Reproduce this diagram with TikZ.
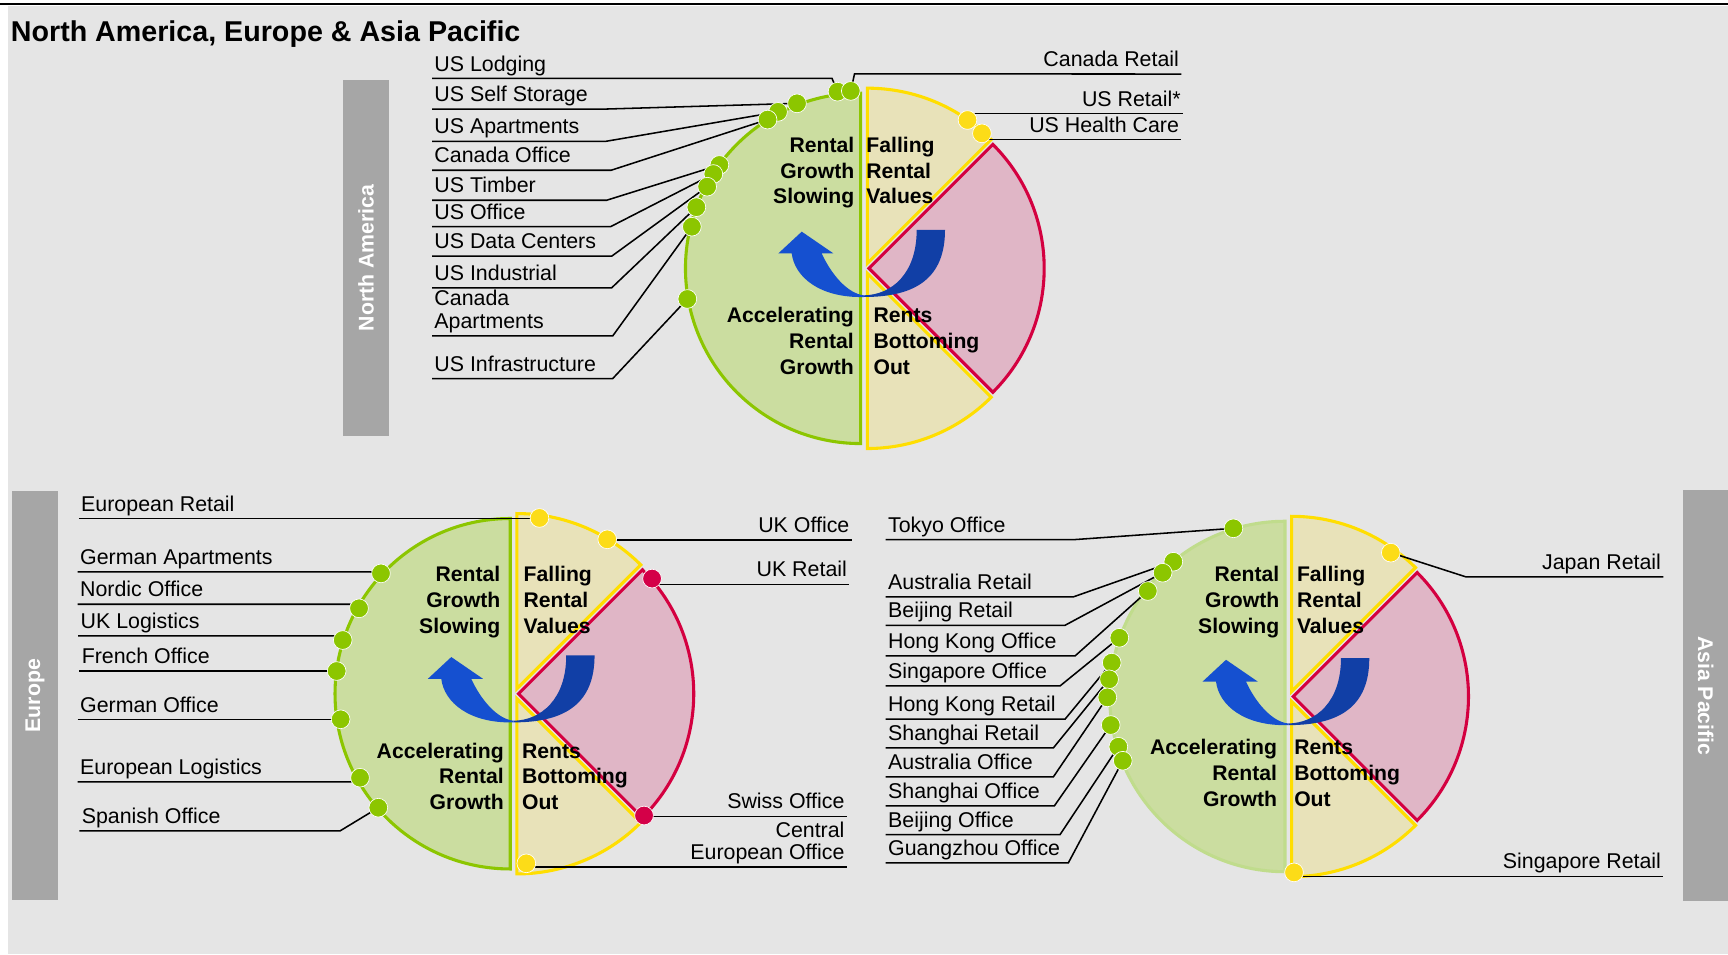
\documentclass[tikz,border=0pt]{standalone}
\usepackage{fontspec}
\setmainfont{Liberation Sans}
\usetikzlibrary{calc}
\definecolor{bgc}{RGB}{229,229,229}
\definecolor{barc}{RGB}{166,166,166}
\definecolor{gfill}{RGB}{203,221,160}
\definecolor{gline}{RGB}{140,198,0}
\definecolor{glinefaint}{RGB}{192,220,140}
\definecolor{yfill}{RGB}{232,226,185}
\definecolor{yline}{RGB}{255,222,0}
\definecolor{pfill}{RGB}{224,182,198}
\definecolor{pline}{RGB}{212,0,64}
\definecolor{dgreen}{RGB}{140,198,0}
\definecolor{dyellow}{RGB}{252,220,24}
\definecolor{dred}{RGB}{212,0,72}
\definecolor{arrlight}{RGB}{21,80,208}
\definecolor{arrdark}{RGB}{17,63,166}
\tikzset{
 lab/.style={font=\fontsize{19.4}{20}\selectfont, inner xsep=2pt, inner ysep=0pt, text depth=6.5pt},
 ctr/.style={font=\bfseries\fontsize{19.2}{23}\selectfont, inner sep=0pt},
 conn/.style={line width=1.4pt, black},
 pieline/.style={line width=2.8pt},
 dotg/.style={circle, inner sep=0pt, minimum size=17pt, fill=dgreen, draw=white, line width=0.6pt},
 doty/.style={dotg, fill=dyellow},
 dotr/.style={dotg, fill=dred},
 barbox/.style={fill=barc, text=white, font=\bfseries\fontsize{19.3}{22}\selectfont, inner sep=0pt},
}
\newcommand\threel[7]{%
 \node[ctr, anchor=#2] (#1a) at (#3,#4) {#5};
 \node[ctr, anchor=#2] (#1b) at (#3,#4+23.3) {#6};
 \node[ctr, anchor=#2] (#1c) at (#3,#4+46.6) {#7};}
\newcommand\drawpie[9]{%
\begin{scope}[shift={(#1,#2)}]
 \filldraw[fill=gfill, draw=#3, pieline] (-3,-159) -- (-3,159) arc[start angle=90, end angle=270, radius=159] -- cycle;
 \filldraw[fill=yfill, draw=yline, pieline] (3,-4.5) -- (3,-163.5) arc[start angle=270, end angle=315, radius=159] -- cycle;
 \filldraw[fill=yfill, draw=yline, pieline] (3,4.5) -- (3,163.5) arc[start angle=90, end angle=45, radius=159] -- cycle;
 \filldraw[fill=pfill, draw=pline, pieline] (4.5,0) -- ++(-45:159) arc[start angle=-45, end angle=45, radius=159] -- cycle;
 \fill[arrdark] (0,26) .. controls (48,26) and (73.5,8) .. (73.5,-34.8) -- (47.8,-34.8) .. controls (47.8,5) and (25,24) .. (0,24.5) -- cycle;
 \fill[arrlight] (0,26) .. controls (-40,27) and (-63,8) .. (-65.6,-13.6) -- (-77.7,-13.6) -- (-56.5,-33.3) -- (-27.8,-13.6) -- (-38.4,-13.6) .. controls (-30,5) and (-15,23) .. (0,24.5) -- cycle;
 \threel{\pp UL}{base east}{#6}{#4}{Rental}{Growth}{Slowing}
 \threel{\pp UR}{base west}{#7}{#4}{Falling}{Rental}{Values}
 \threel{\pp LL}{base east}{#8}{#5}{Accelerating}{Rental}{Growth}
 \threel{\pp LR}{base west}{#9}{#5}{Rents}{Bottoming}{Out}
\end{scope}}
\begin{document}
\begin{tikzpicture}[x=1pt,y=-1pt]
\useasboundingbox (0,0) rectangle (1568,866);
\fill[white] (0,0) rectangle (1568,866);
\fill[bgc] (6.9,5) rectangle (1568,866);
\draw[line width=2pt] (0,3.3) -- (1568,3.3);
\node[anchor=base west, inner sep=0pt, font=\bfseries\fontsize{26}{30}\selectfont] (title) at (9.7,37.8) {North America, Europe \& Asia Pacific};
% side bars
\node[barbox, minimum width=322.8pt, minimum height=41.5pt, rotate=90] (naBar) at (332.2,234) {North America};
\node[barbox, minimum width=371.1pt, minimum height=41.6pt, rotate=90] (euBar) at (31.8,631.2) {Europe};
\node[barbox, minimum width=373.4pt, minimum height=40.5pt, rotate=-90] (asBar) at (1547.75,631.3) {Asia Pacific};
% pies
\def\pp{na}\drawpie{784}{243.5}{gline}{-105}{49.5}{-8.6}{2}{-9}{8.5}
\def\pp{eu}\drawpie{466}{629.5}{gline}{-101.7}{58.6}{-11.8}{9}{-8.7}{7.5}
\def\pp{as}\drawpie{1169}{632}{glinefaint}{-104.2}{53}{-8}{7.7}{-10}{5.2}
% dot positions
\coordinate (cUSLodging) at (760,83.2);
\coordinate (cCanRetail) at (772,82.5);
\coordinate (cUSSelf) at (723.2,93.8);
\coordinate (cUSApt) at (706,101.5);
\coordinate (cCanOff) at (696.5,108.5);
\coordinate (cUSTimber) at (652.8,149.7);
\coordinate (cUSOffice) at (647.3,157.9);
\coordinate (cUSData) at (641.7,169.4);
\coordinate (cUSInd) at (631.9,188);
\coordinate (cCanApt) at (627.8,205.7);
\coordinate (cUSInfra) at (623.7,271.3);
\coordinate (cUSRetail) at (877.9,108.9);
\coordinate (cUSHealth) at (891,121);
\coordinate (cEurRetail) at (489.5,470);
\coordinate (cGerApt) at (345.7,520.3);
\coordinate (cNordic) at (325.8,552);
\coordinate (cUKLog) at (311,580.8);
\coordinate (cFrench) at (305.5,608.9);
\coordinate (cGerOff) at (309.1,652.7);
\coordinate (cEurLog) at (326.7,705.7);
\coordinate (cSpanish) at (343.3,732.9);
\coordinate (cUKOff) at (551,489.4);
\coordinate (cUKRetail) at (591.7,525);
\coordinate (cSwiss) at (584.4,740);
\coordinate (cCentral) at (477.6,783.4);
\coordinate (cTokyo) at (1119.2,479.4);
\coordinate (cAusRetail) at (1064.7,509.7);
\coordinate (cBeiRetail) at (1055,519.7);
\coordinate (cHKOff) at (1041.5,536.3);
\coordinate (cSingOff) at (1015.7,578.7);
\coordinate (cHKRetail) at (1008.8,601.3);
\coordinate (cShaRetail) at (1006.4,616.4);
\coordinate (cAusOff) at (1004.8,632.8);
\coordinate (cShaOff) at (1007.9,657.9);
\coordinate (cBeiOff) at (1014.8,677.6);
\coordinate (cGuangOff) at (1018.8,690.3);
\coordinate (cJapRetail) at (1262,501.5);
\coordinate (cSingRetail) at (1174.2,791.6);
% North America labels
\node[lab, anchor=base west] (lUSLodging) at (392,64.5) {US Lodging};
\node[lab, anchor=base west] (lUSSelf) at (392,92.4) {US Self Storage};
\node[lab, anchor=base west] (lUSApt) at (392,121.5) {US Apartments};
\node[lab, anchor=base west] (lCanOff) at (392,147.8) {Canada Office};
\node[lab, anchor=base west] (lUSTimber) at (392,175) {US Timber};
\node[lab, anchor=base west] (lUSOffice) at (392,199) {US Office};
\node[lab, anchor=base west] (lUSData) at (392,225.8) {US Data Centers};
\node[lab, anchor=base west] (lUSInd) at (392,254.5) {US Industrial};
\node[lab, anchor=base west] (lCanApt1) at (392,277.6) {Canada};
\node[lab, anchor=base west] (lCanApt) at (392,298.1) {Apartments};
\node[lab, anchor=base west] (lUSInfra) at (392,336.8) {US Infrastructure};
\node[lab, anchor=base east] (lCanRetail) at (1072,60.5) {Canada Retail};
\node[lab, anchor=base east] (lUSRetail) at (1073.5,96.3) {US Retail*};
\node[lab, anchor=base east] (lUSHealth) at (1072,120) {US Health Care};
\draw[conn] (lUSLodging.south west) -- ++(363,0) -- (cUSLodging);
\draw[conn] (lUSSelf.south west) -- ++(153,0) -- (cUSSelf);
\draw[conn] (lUSApt.south west) -- ++(158,0) -- (cUSApt);
\draw[conn] (lCanOff.south west) -- ++(162.5,0) -- (cCanOff);
\draw[conn] (lUSTimber.south west) -- ++(158.5,0) -- (cUSTimber);
\draw[conn] (lUSOffice.south west) -- ++(162,0) -- (cUSOffice);
\draw[conn] (lUSData.south west) -- ++(163,0) -- (cUSData);
\draw[conn] (lUSInd.south west) -- ++(163,0) -- (cUSInd);
\draw[conn] (lCanApt.south west) -- ++(164,0) -- (cCanApt);
\draw[conn] (lUSInfra.south west) -- ++(164,0) -- (cUSInfra);
\draw[conn] (cCanRetail) -- ($(cCanRetail)+(3.4,-15.5)$) -- (lCanRetail.south east);
\draw[conn] (cUSRetail) -- (cUSRetail |- lUSRetail.south) -- (lUSRetail.south east);
\draw[conn] (cUSHealth) -- (cUSHealth |- lUSHealth.south) -- (lUSHealth.south east);
% Europe labels
\node[lab, anchor=base west] (lEurRetail) at (71.5,463.8) {European Retail};
\node[lab, anchor=base west] (lGerApt) at (70.5,512.3) {German Apartments};
\node[lab, anchor=base west] (lNordic) at (70.5,541.6) {Nordic Office};
\node[lab, anchor=base west] (lUKLog) at (71,570.3) {UK Logistics};
\node[lab, anchor=base west] (lFrench) at (72,602.1) {French Office};
\node[lab, anchor=base west] (lGerOff) at (70.5,646.2) {German Office};
\node[lab, anchor=base west] (lEurLog) at (70.5,702.8) {European Logistics};
\node[lab, anchor=base west] (lSpanish) at (72,747.3) {Spanish Office};
\node[lab, anchor=base east] (lUKOff) at (772.9,483.5) {UK Office};
\node[lab, anchor=base east] (lUKRetail) at (770.7,523.5) {UK Retail};
\node[lab, anchor=base east] (lSwiss) at (768.5,734) {Swiss Office};
\node[lab, anchor=base east] (lCentral1) at (768.5,760) {Central};
\node[lab, anchor=base east] (lCentral) at (768.5,780) {European Office};
\draw[conn] (lEurRetail.south west) -- (cEurRetail |- lEurRetail.south west) -- (cEurRetail);
\draw[conn] (lGerApt.south west) -- ++(265.9,0) -- (cGerApt);
\draw[conn] (lNordic.south west) -- ++(247.1,0) -- (cNordic);
\draw[conn] (lUKLog.south west) -- ++(232.4,0) -- (cUKLog);
\draw[conn] (lFrench.south west) -- (cFrench |- lFrench.south west) -- (cFrench);
\draw[conn] (lGerOff.south west) -- (cGerOff |- lGerOff.south west) -- (cGerOff);
\draw[conn] (lEurLog.south west) -- ++(247.7,0) -- (cEurLog);
\draw[conn] (lSpanish.south west) -- ++(236.5,0) -- (cSpanish);
\draw[conn] (cUKOff) -- (cUKOff |- lUKOff.south) -- (lUKOff.south east);
\draw[conn] (cUKRetail) -- (cUKRetail |- lUKRetail.south) -- (lUKRetail.south east);
\draw[conn] (cSwiss) -- (cSwiss |- lSwiss.south) -- (lSwiss.south east);
\draw[conn] (cCentral) -- (cCentral |- lCentral.south) -- (lCentral.south east);
% Asia Pacific labels
\node[lab, anchor=base west] (lTokyo) at (803.7,482.9) {Tokyo Office};
\node[lab, anchor=base west] (lAusRetail) at (803.7,534.9) {Australia Retail};
\node[lab, anchor=base west] (lBeiRetail) at (803.7,560.7) {Beijing Retail};
\node[lab, anchor=base west] (lHKOff) at (803.7,588.5) {Hong Kong Office};
\node[lab, anchor=base west] (lSingOff) at (803.7,615.7) {Singapore Office};
\node[lab, anchor=base west] (lHKRetail) at (803.7,645.9) {Hong Kong Retail};
\node[lab, anchor=base west] (lShaRetail) at (803.7,672) {Shanghai Retail};
\node[lab, anchor=base west] (lAusOff) at (803.7,698.3) {Australia Office};
\node[lab, anchor=base west] (lShaOff) at (803.7,724.6) {Shanghai Office};
\node[lab, anchor=base west] (lBeiOff) at (803.7,750.6) {Beijing Office};
\node[lab, anchor=base west] (lGuangOff) at (803.7,776.3) {Guangzhou Office};
\node[lab, anchor=base east] (lJapRetail) at (1509.4,516.8) {Japan Retail};
\node[lab, anchor=base east] (lSingRetail) at (1509.4,788.5) {Singapore Retail};
\draw[conn] (lTokyo.south west) -- ++(171.8,0) -- (cTokyo);
\draw[conn] (lAusRetail.south west) -- ++(170.3,0) -- (cAusRetail);
\draw[conn] (lBeiRetail.south west) -- ++(162.7,0) -- (cBeiRetail);
\draw[conn] (lHKOff.south west) -- ++(171.8,0) -- (cHKOff);
\draw[conn] (lSingOff.south west) -- ++(158.2,0) -- (cSingOff);
\draw[conn] (lHKRetail.south west) -- ++(162.7,0) -- (cHKRetail);
\draw[conn] (lShaRetail.south west) -- ++(152.1,0) -- (cShaRetail);
\draw[conn] (lAusOff.south west) -- ++(152.1,0) -- (cAusOff);
\draw[conn] (lShaOff.south west) -- ++(153,0) -- (cShaOff);
\draw[conn] (lBeiOff.south west) -- ++(158.2,0) -- (cBeiOff);
\draw[conn] (lGuangOff.south west) -- ++(165.7,0) -- (cGuangOff);
\draw[conn] (lJapRetail.south east) -- ++(-179.1,0) -- (cJapRetail);
\draw[conn] (cSingRetail) -- (cSingRetail |- lSingRetail.south) -- (lSingRetail.south east);
% dots
\node[dotg] (dUSLodging) at (cUSLodging) {};
\node[dotg] (dCanRetail) at (cCanRetail) {};
\node[dotg] (dUSSelf) at (cUSSelf) {};
\node[dotg] (dUSApt) at (cUSApt) {};
\node[dotg] (dCanOff) at (cCanOff) {};
\node[dotg] (dUSTimber) at (cUSTimber) {};
\node[dotg] (dUSOffice) at (cUSOffice) {};
\node[dotg] (dUSData) at (cUSData) {};
\node[dotg] (dUSInd) at (cUSInd) {};
\node[dotg] (dCanApt) at (cCanApt) {};
\node[dotg] (dUSInfra) at (cUSInfra) {};
\node[doty] (dUSRetail) at (cUSRetail) {};
\node[doty] (dUSHealth) at (cUSHealth) {};
\node[doty] (dEurRetail) at (cEurRetail) {};
\node[dotg] (dGerApt) at (cGerApt) {};
\node[dotg] (dNordic) at (cNordic) {};
\node[dotg] (dUKLog) at (cUKLog) {};
\node[dotg] (dFrench) at (cFrench) {};
\node[dotg] (dGerOff) at (cGerOff) {};
\node[dotg] (dEurLog) at (cEurLog) {};
\node[dotg] (dSpanish) at (cSpanish) {};
\node[doty] (dUKOff) at (cUKOff) {};
\node[dotr] (dUKRetail) at (cUKRetail) {};
\node[dotr] (dSwiss) at (cSwiss) {};
\node[doty] (dCentral) at (cCentral) {};
\node[dotg] (dTokyo) at (cTokyo) {};
\node[dotg] (dAusRetail) at (cAusRetail) {};
\node[dotg] (dBeiRetail) at (cBeiRetail) {};
\node[dotg] (dHKOff) at (cHKOff) {};
\node[dotg] (dSingOff) at (cSingOff) {};
\node[dotg] (dHKRetail) at (cHKRetail) {};
\node[dotg] (dShaRetail) at (cShaRetail) {};
\node[dotg] (dAusOff) at (cAusOff) {};
\node[dotg] (dShaOff) at (cShaOff) {};
\node[dotg] (dBeiOff) at (cBeiOff) {};
\node[dotg] (dGuangOff) at (cGuangOff) {};
\node[doty] (dJapRetail) at (cJapRetail) {};
\node[doty] (dSingRetail) at (cSingRetail) {};
\end{tikzpicture}
\end{document}
